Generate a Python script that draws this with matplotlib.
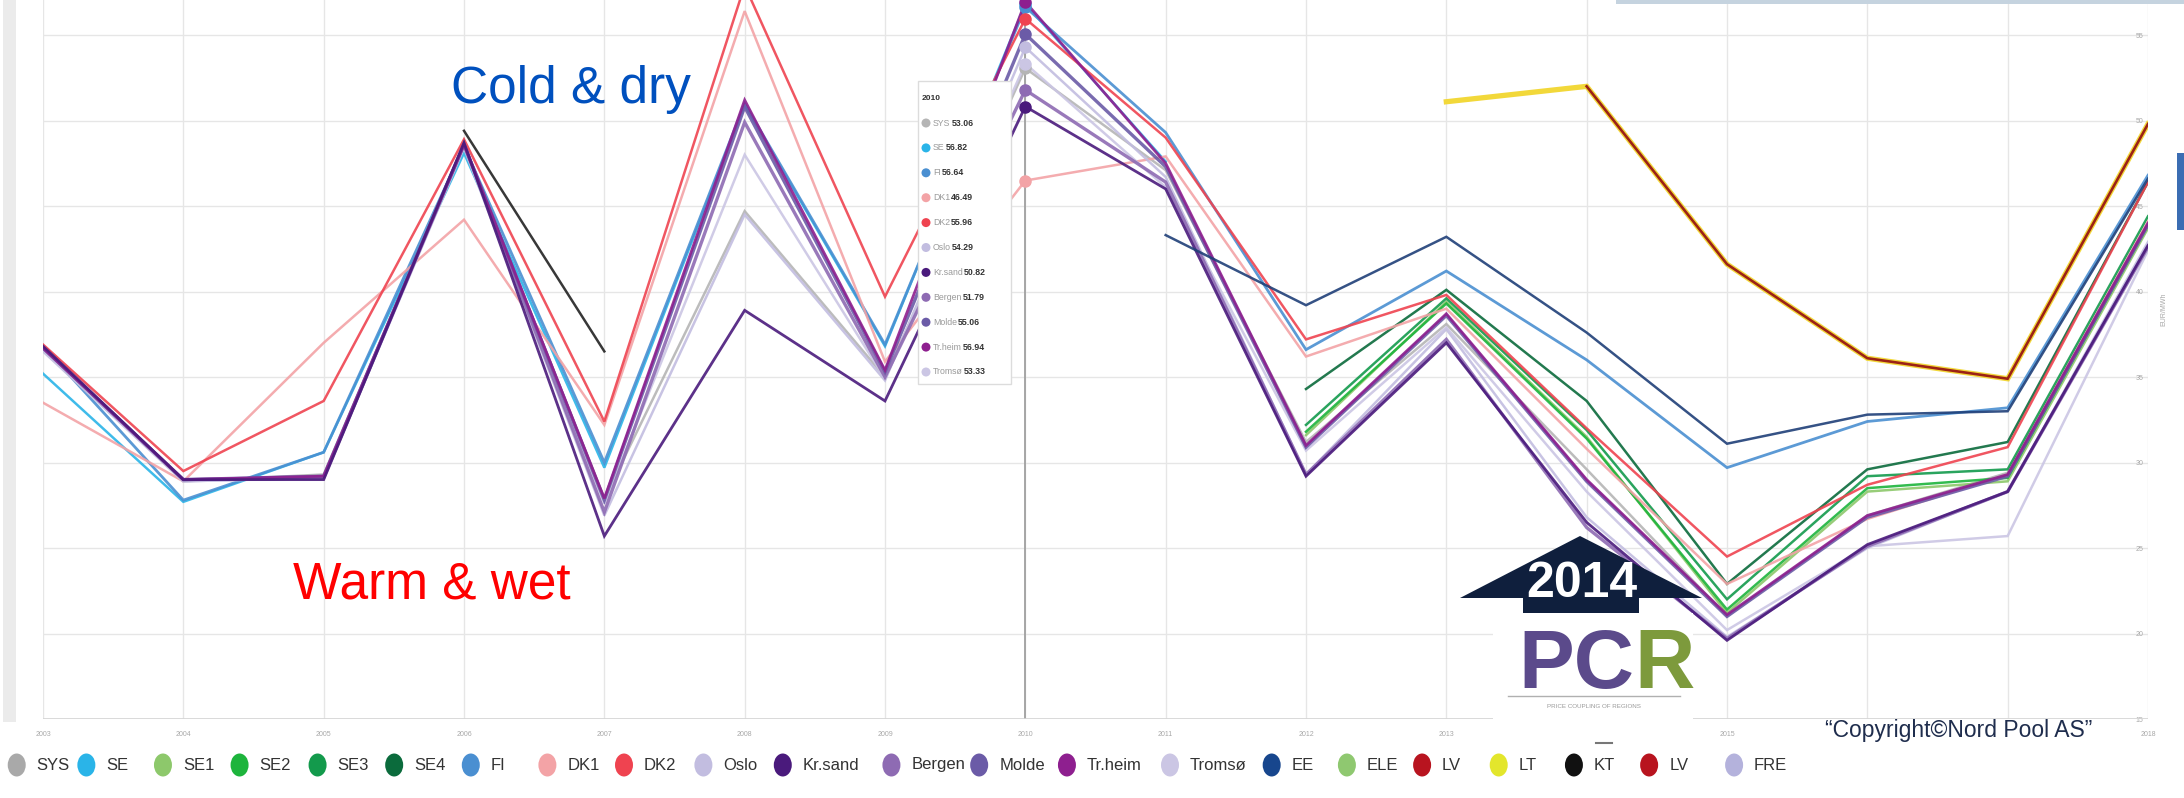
import numpy as np
import matplotlib
matplotlib.use('Agg')
import matplotlib.pyplot as plt
from matplotlib.patches import Rectangle, Ellipse, Polygon
from matplotlib import font_manager

W, H = 2184, 798
nan = np.nan

# yearly average prices, EUR/MWh
years = list(range(2003, 2019))
sys_vals = [36.7, 28.9, 29.3, 48.6, 27.9, 44.7, 35.0, 53.06, 47.1, 31.2, 38.1, 29.6, 21.0, 26.9, 29.4, 44.0]
se_vals = [35.2, 27.7, 30.6, 48.1, 29.7, 50.9, 36.8, 56.82, 47.6, nan, nan, nan, nan, nan, nan, nan]
se1_vals = [nan] * 9 + [31.6, 39.4, 31.5, 21.2, 28.3, 28.9, 43.7]
se2_vals = [nan] * 9 + [31.8, 39.3, 31.4, 21.4, 28.5, 29.1, 43.9]
se3_vals = [nan] * 9 + [32.2, 39.6, 31.9, 22.0, 29.2, 29.6, 44.4]
se4_vals = [nan] * 9 + [34.3, 40.1, 33.6, 22.9, 29.6, 31.2, 46.4]
fi_vals = [36.8, 27.8, 30.6, 48.5, 30.0, 51.0, 36.9, 56.64, 49.3, 36.6, 41.2, 36.0, 29.7, 32.4, 33.2, 46.8]
dk1_vals = [33.5, 28.9, 37.0, 44.2, 32.2, 56.4, 35.9, 46.49, 47.9, 36.2, 39.0, 30.8, 22.9, 26.7, 29.3, 44.1]
dk2_vals = [36.9, 29.5, 33.6, 48.9, 32.4, 57.9, 39.7, 55.96, 49.0, 37.2, 39.8, 32.0, 24.5, 28.7, 30.9, 46.4]
oslo_vals = [36.5, 28.9, 29.1, 48.4, 26.9, 44.5, 34.8, 54.29, 46.7, 29.3, 37.8, 26.8, 19.8, 25.0, 28.3, 42.9]
krsand_vals = [36.8, 29.0, 29.0, 48.7, 25.7, 38.9, 33.6, 50.82, 46.0, 29.2, 37.0, 26.5, 19.6, 25.2, 28.3, 42.7]
bergen_vals = [36.7, 29.0, 29.1, 48.6, 27.1, 49.9, 35.0, 51.79, 46.4, 29.3, 37.2, 26.2, 19.7, 25.1, 28.3, 42.6]
molde_vals = [36.7, 29.0, 29.2, 48.6, 27.8, 50.8, 35.3, 55.06, 47.3, 30.9, 38.6, 28.9, 21.0, 26.8, 29.2, 43.9]
trheim_vals = [36.7, 29.0, 29.2, 48.6, 27.9, 51.2, 35.4, 56.94, 47.5, 31.0, 38.7, 29.0, 21.1, 26.9, 29.3, 44.0]
tromso_vals = [36.6, 28.9, 29.1, 48.5, 27.6, 48.0, 34.9, 53.33, 46.1, 30.7, 37.9, 28.3, 20.2, 25.1, 25.7, 42.4]
ee_vals = [nan] * 8 + [43.3, 39.2, 43.2, 37.6, 31.1, 32.8, 33.0, 46.6]
lt_vals = [nan] * 10 + [51.1, 52.0, 41.6, 36.1, 34.9, 49.8]
lv_vals = [nan] * 11 + [52.0, 41.6, 36.1, 34.9, 49.8]
kt_vals = [nan] * 3 + [49.4, 36.5] + [nan] * 11

# tick labels hidden behind the logo / copyright box in the original
hidden_years = [2014, 2016, 2017]

legend_names = ['SYS', 'SE', 'SE1', 'SE2', 'SE3', 'SE4', 'FI', 'DK1', 'DK2', 'Oslo', 'Kr.sand',
                'Bergen', 'Molde', 'Tr.heim', 'Tromsø', 'EE', 'ELE', 'LV', 'LT', 'KT', 'LV', 'FRE']
legend_colors = ['#a9a9a9', '#2ab4e8', '#8dc86b', '#1db43c', '#139a4c', '#0b6b3c', '#4a8fd1',
                 '#f3a3a6', '#ef4350', '#c2bde0', '#4a1a7c', '#8e6bb3', '#6b5ba7', '#8e1f8f',
                 '#cbc6e4', '#17468d', '#8fc870', '#b8141f', '#e3e62c', '#111111', '#b8141f', '#b4b2dc']

hover_year = 2010
hover_names = ['SYS', 'SE', 'FI', 'DK1', 'DK2', 'Oslo', 'Kr.sand', 'Bergen', 'Molde', 'Tr.heim', 'Tromsø']

# series drawn: name, values, colour, width
series = [
    ('LT', lt_vals, '#f2d83a', 3.8),
    ('SYS', sys_vals, '#b5b5b5', 1.8),
    ('SE', se_vals, '#2ab4e8', 1.8),
    ('SE1', se1_vals, '#8dc86b', 1.8),
    ('SE2', se2_vals, '#1db43c', 1.8),
    ('SE3', se3_vals, '#139a4c', 1.8),
    ('SE4', se4_vals, '#0b6b3c', 1.8),
    ('FI', fi_vals, '#4a8fd1', 2.0),
    ('DK1', dk1_vals, '#f3a3a6', 1.8),
    ('DK2', dk2_vals, '#ef4350', 1.8),
    ('Oslo', oslo_vals, '#c2bde0', 1.8),
    ('Tromsø', tromso_vals, '#cbc6e4', 1.8),
    ('Bergen', bergen_vals, '#8e6bb3', 2.4),
    ('Molde', molde_vals, '#6b5ba7', 2.4),
    ('Tr.heim', trheim_vals, '#8e1f8f', 2.0),
    ('Kr.sand', krsand_vals, '#4a1a7c', 2.0),
    ('EE', ee_vals, '#1f3f78', 1.8),
    ('LV', lv_vals, '#9c2216', 1.9),
    ('KT', kt_vals, '#222222', 1.8),
]
by_name = {s[0]: s for s in series}

names = {f.name for f in font_manager.fontManager.ttflist}
narrow = 'Liberation Sans Narrow' if 'Liberation Sans Narrow' in names else 'Liberation Sans'
plt.rcParams['font.family'] = ['Liberation Sans', 'DejaVu Sans']


def fx(px):
    return px / W


def fy(py):
    return 1 - py / H


fig = plt.figure(figsize=(W / 100, H / 100), dpi=100)
fig.patch.set_facecolor('white')

ax = fig.add_axes([fx(43), fy(719), fx(2148) - fx(43), fy(0) - fy(719)])
ax.set_xlim(2003, 2018)
ax.set_ylim(15, 57.05)
ax.set_xticks(years)
ax.set_xticklabels(['' if y in hidden_years else str(y) for y in years])
ax.set_yticks(range(15, 60, 5))
ax.yaxis.tick_right()
ax.tick_params(axis='x', length=0, pad=9, labelsize=5, labelcolor='#a8a8a8')
ax.tick_params(axis='y', length=0, pad=-9, labelsize=5, labelcolor='#a8a8a8')
ax.grid(True, color='#e6e6e6', linewidth=1.0)
for sp in ax.spines.values():
    sp.set_visible(False)
ax.axhline(15, color='#d4d4d4', linewidth=1.2)
ax.set_axisbelow(True)

# hover crosshair
ax.axvline(hover_year, color='#a0a0a0', linewidth=1.3, zorder=1)

for name, vals, color, lw in series:
    a = 1.0 if name in ('LV', 'LT') else 0.9
    ax.plot(years, vals, color=color, linewidth=lw, alpha=a, zorder=2, solid_joinstyle='miter')

idx = years.index(hover_year)
for name in hover_names:
    s = by_name[name]
    ax.plot(hover_year, s[1][idx], 'o', color=s[2], markersize=8, zorder=4, clip_on=True)

ax.text(1.006, 0.57, 'EUR/MWh', transform=ax.transAxes, rotation=90, fontsize=5,
        color='#a8a8a8', ha='left', va='center', clip_on=False)

# left scroll strip, top bar, side tab
fig.add_artist(Rectangle((fx(3), fy(722)), fx(13), fy(0) - fy(722), transform=fig.transFigure,
                         facecolor='#ebebeb', edgecolor='none'))
fig.add_artist(Rectangle((fx(1616), fy(4)), fx(568), fy(0) - fy(4), transform=fig.transFigure,
                         facecolor='#c5d3df', edgecolor='none'))
fig.add_artist(Rectangle((fx(2177), fy(230)), fx(7), fy(153) - fy(230), transform=fig.transFigure,
                         facecolor='#3b6db3', edgecolor='none'))

# tooltip for the hovered year
fig.add_artist(Rectangle((fx(918), fy(384)), fx(93), fy(81) - fy(384), transform=fig.transFigure,
                         facecolor='white', edgecolor='#dcdcdc', linewidth=1, zorder=5))
fig.text(fx(922), fy(98), str(hover_year), fontsize=6, fontweight='bold', color='#333333',
         va='center', ha='left', zorder=6)
renderer = fig.canvas.get_renderer()
for i, name in enumerate(hover_names):
    s = by_name[name]
    yy = 123 + i * 24.9
    fig.add_artist(Ellipse((fx(926), fy(yy)), fx(9), fy(0) - fy(9), transform=fig.transFigure,
                           facecolor=s[2], edgecolor='none', zorder=6))
    t = fig.text(fx(933), fy(yy), name, fontsize=6.3, color='#9a9a9a', va='center', ha='left',
                 family=narrow, zorder=6)
    bb = t.get_window_extent(renderer)
    fig.text(fx(bb.x1 + 1), fy(yy), '%.2f' % s[1][idx], fontsize=6.3, fontweight='bold',
             color='#333333', va='center', ha='left', family=narrow, zorder=6)

# annotations
fig.text(fx(571), fy(90), 'Cold & dry', fontsize=37, color='#0050be', ha='center', va='center')
fig.text(fx(432), fy(585), 'Warm & wet', fontsize=37, color='#ff0000', ha='center', va='center')

# 2014 arrow and PCR logo
fig.add_artist(Rectangle((fx(1493), fy(745)), fx(200), fy(613) - fy(745), transform=fig.transFigure,
                         facecolor='white', edgecolor='none', zorder=3))
arrow = [(1460, 598), (1580, 536), (1702, 598), (1639, 598), (1639, 613), (1523, 613), (1523, 598)]
fig.add_artist(Polygon([(fx(a), fy(b)) for a, b in arrow], closed=True, transform=fig.transFigure,
                       facecolor='#0f1f3d', edgecolor='none', zorder=4))
fig.text(fx(1582), fy(584), '2014', fontsize=36, fontweight='bold', color='white',
         ha='center', va='center', zorder=5)
fig.text(fx(1634), fy(688), 'PC', fontsize=60, fontweight='bold', color='#5b4a8b',
         ha='right', va='baseline', zorder=5)
fig.text(fx(1634), fy(688), 'R', fontsize=60, fontweight='bold', color='#7d9a3c',
         ha='left', va='baseline', zorder=5)
fig.add_artist(plt.Line2D([fx(1508), fx(1680)], [fy(696), fy(696)], transform=fig.transFigure,
                          color='#b0b0b0', linewidth=1, zorder=5))
fig.text(fx(1594), fy(707), 'PRICE COUPLING OF REGIONS', fontsize=4.5, color='#9a9a9a',
         ha='center', va='center', zorder=5)
fig.add_artist(plt.Line2D([fx(1596), fx(1612)], [fy(743), fy(743)], transform=fig.transFigure,
                          color='#777777', linewidth=1.5, zorder=5))

fig.text(fx(1959), fy(730), '\u201cCopyright\u00a9Nord Pool AS\u201d', fontsize=16.5,
         color='#1f2d4d', ha='center', va='center', family=narrow, zorder=5)

# legend row
legend_x = [12, 62, 117, 172, 228, 283, 338, 393, 448, 505, 562, 640, 703, 766, 840, 913, 967,
            1021, 1076, 1130, 1184, 1245]
for name, color, lx in zip(legend_names, legend_colors, legend_x):
    cx = lx * W / 1568
    fig.add_artist(Ellipse((fx(cx), fy(765)), fx(18), fy(0) - fy(23), transform=fig.transFigure,
                           facecolor=color, edgecolor='none'))
    fig.text(fx(cx + 20), fy(765), name, fontsize=12, color='#333333', ha='left', va='center',
             family=narrow)

fig.savefig('out.png', dpi=100)
